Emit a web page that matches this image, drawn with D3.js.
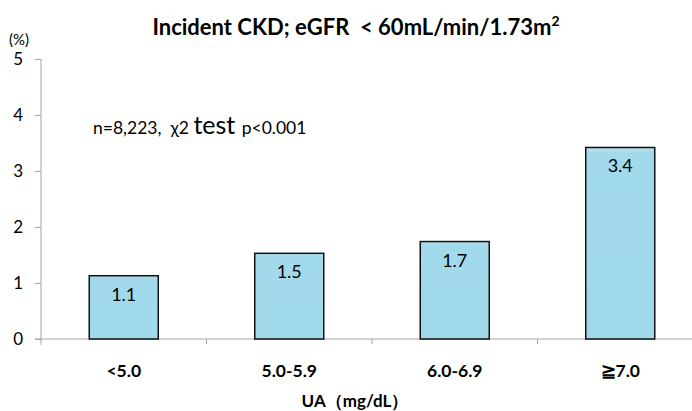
<!DOCTYPE html>
<html>
<head>
<meta charset="utf-8">
<script src="https://cdn.jsdelivr.net/npm/d3@7"></script>
<style>
  body { margin: 0; background: #fff; }
  svg { font-family: Lato, "Open Sans", sans-serif; }
  .pre { white-space: pre; }
</style>
</head>
<body>
<svg width="692" height="411"></svg>
<script>
/* Data */
const categories = ['<5.0', '5.0-5.9', '6.0-6.9', '≧7.0'];
const values = [1.13, 1.53, 1.74, 3.42];
const valueLabels = ['1.1', '1.5', '1.7', '3.4'];
const yTicks = [0, 1, 2, 3, 4, 5];

/* SVG */
const svg = d3.select('svg');
const width = +svg.attr('width');
const height = +svg.attr('height');

const margin = { top: 59, right: -11, bottom: 72, left: 41 };
const x0 = margin.left, x1 = width - margin.right;
const yTop = margin.top, yBottom = height - margin.bottom;

/* Scales */
const x = d3.scaleBand()
  .domain(categories)
  .range([x0, x1])
  .paddingInner(0.583)
  .paddingOuter(0.2915);

const y = d3.scaleLinear()
  .domain([0, 5])
  .range([yBottom, yTop]);

const axisColor = '#a6a6a6';

/* Y axis */
const yAxis = svg.append('g')
  .attr('transform', `translate(${x0},0)`)
  .call(d3.axisLeft(y).tickValues(yTicks).tickFormat(d3.format('d'))
    .tickSize(6).tickSizeOuter(0).tickPadding(12));
yAxis.select('.domain').attr('stroke', axisColor).attr('d', `M0,${yTop}V${yBottom + 6}`);
yAxis.selectAll('.tick line').attr('stroke', axisColor);
yAxis.selectAll('.tick text')
  .attr('font-size', 17)
  .attr('fill', '#000')
  .attr('font-family', 'Lato, sans-serif');

svg.append('text')
  .attr('x', 19)
  .attr('y', 45)
  .attr('text-anchor', 'middle')
  .attr('font-size', 15)
  .text('(%)');

/* X axis */
svg.append('line')
  .attr('x1', x0 - 6).attr('x2', width)
  .attr('y1', yBottom).attr('y2', yBottom)
  .attr('stroke', axisColor);

const step = x.step();
const gap = step - x.bandwidth();
svg.selectAll('.xtick')
  .data(categories)
  .enter().append('line')
  .attr('class', 'xtick')
  .attr('x1', d => x(d) - gap / 2 + step)
  .attr('x2', d => x(d) - gap / 2 + step)
  .attr('y1', yBottom)
  .attr('y2', yBottom + 5)
  .attr('stroke', axisColor);

svg.selectAll('.xlabel')
  .data(categories)
  .enter().append('text')
  .attr('class', 'xlabel')
  .attr('x', d => x(d) + x.bandwidth() / 2)
  .attr('y', 377)
  .attr('text-anchor', 'middle')
  .attr('font-size', 17.5)
  .attr('font-weight', 'bold')
  .text(d => d);

svg.append('text')
  .attr('x', 355)
  .attr('y', 407)
  .attr('text-anchor', 'middle')
  .attr('font-size', 17)
  .attr('font-weight', 'bold')
  .text('UA（mg/dL）');

/* Bars */
const defs = svg.append('defs');
const grad = defs.append('linearGradient')
  .attr('id', 'barFill')
  .attr('x1', 0).attr('x2', 0).attr('y1', 0).attr('y2', 1);
grad.append('stop').attr('offset', '0%').attr('stop-color', '#b8e4f1');
grad.append('stop').attr('offset', '3%').attr('stop-color', '#a2daeb');
grad.append('stop').attr('offset', '100%').attr('stop-color', '#a0d9ea');

svg.selectAll('.bar')
  .data(values)
  .enter().append('rect')
  .attr('class', 'bar')
  .attr('x', (d, i) => x(categories[i]))
  .attr('y', d => y(d))
  .attr('width', x.bandwidth())
  .attr('height', d => y(0) - y(d))
  .attr('fill', 'url(#barFill)')
  .attr('stroke', '#111')
  .attr('stroke-width', 1.5);

svg.selectAll('.vlabel')
  .data(values)
  .enter().append('text')
  .attr('class', 'vlabel')
  .attr('x', (d, i) => x(categories[i]) + x.bandwidth() / 2)
  .attr('y', d => y(d) + 25)
  .attr('text-anchor', 'middle')
  .attr('font-size', 18)
  .text((d, i) => valueLabels[i]);

/* Title */
const title = svg.append('text')
  .attr('class', 'pre')
  .attr('x', 356)
  .attr('y', 35)
  .attr('text-anchor', 'middle')
  .attr('font-size', 22)
  .attr('font-weight', 'bold');
title.append('tspan').text('Incident CKD; eGFR  < 60mL/min/1.73m');
title.append('tspan').attr('font-size', 14).attr('dy', -9).text('2');

/* Annotation */
const note = svg.append('text')
  .attr('class', 'pre')
  .attr('x', 93)
  .attr('y', 134)
  .attr('font-size', 17.5);
note.append('tspan').text('n=8,223,  χ2 ');
note.append('tspan').attr('font-size', 25).text('test ');
note.append('tspan').text('p<0.001');
</script>
</body>
</html>
